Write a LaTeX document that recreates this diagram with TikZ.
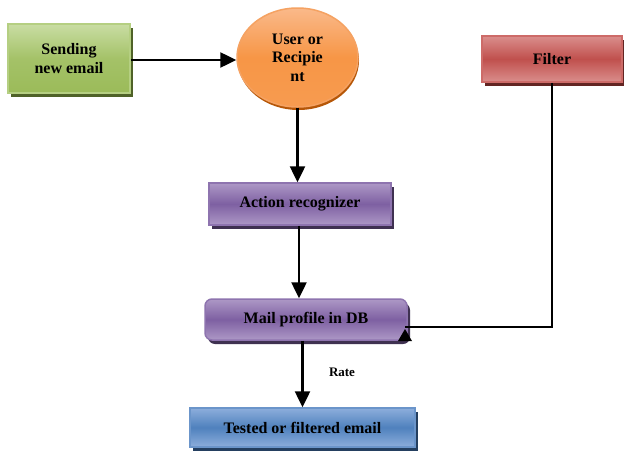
\documentclass[tikz,border=0pt]{standalone}
\usepackage{fontspec}
\setmainfont{Liberation Serif}
\usetikzlibrary{shapes.geometric,shadows,arrows.meta,calc}
\definecolor{gLight}{HTML}{C9DDA3}
\definecolor{gMid}{HTML}{9BBB59}
\definecolor{gEdge}{HTML}{B5CF82}
\definecolor{gShadow}{HTML}{4F6228}
\definecolor{oLight}{HTML}{FAB98A}
\definecolor{oMid}{HTML}{F79646}
\definecolor{oEdge}{HTML}{F5A262}
\definecolor{oShadow}{HTML}{B65708}
\definecolor{rLight}{HTML}{DA8E8C}
\definecolor{rMid}{HTML}{C0504D}
\definecolor{rEdge}{HTML}{CD6B68}
\definecolor{rShadow}{HTML}{632523}
\definecolor{pLight}{HTML}{AD98C6}
\definecolor{pMid}{HTML}{7E60A2}
\definecolor{pEdge}{HTML}{8E74AF}
\definecolor{pShadow}{HTML}{3F3151}
\definecolor{bLight}{HTML}{8DAEDC}
\definecolor{bMid}{HTML}{4F81BD}
\definecolor{bEdge}{HTML}{6B95CA}
\definecolor{bShadow}{HTML}{243F60}
\tikzset{
  x=1pt,y=1pt,
  base/.style={font=\fontsize{16}{18.5}\selectfont\bfseries, align=center, inner sep=0pt, line width=1.5pt},
  gbox/.style={base, rectangle, top color=gLight, bottom color=gMid, middle color=gMid!80!gLight, draw=gEdge,
    drop shadow={shadow xshift=3pt, shadow yshift=-4pt, fill=gShadow, opacity=1}},
  obox/.style={base, ellipse, top color=oLight, bottom color=oMid!85!oLight, middle color=oMid, draw=oEdge,
    drop shadow={shadow xshift=1pt, shadow yshift=-3pt, fill=oShadow, opacity=1}},
  rbox/.style={base, rectangle, top color=rLight, bottom color=rLight, middle color=rMid, draw=rEdge,
    drop shadow={shadow xshift=3pt, shadow yshift=-4pt, fill=rShadow, opacity=1}},
  pbox/.style={base, rectangle, top color=pLight, bottom color=pLight, middle color=pMid, draw=pEdge,
    drop shadow={shadow xshift=3pt, shadow yshift=-4pt, fill=pShadow, opacity=1}},
  bbox/.style={base, rectangle, top color=bLight, bottom color=bLight, middle color=bMid, draw=bEdge,
    drop shadow={shadow xshift=3pt, shadow yshift=-4pt, fill=bShadow, opacity=1}},
  conn/.style={line width=2.5pt, -{Triangle[length=16pt,width=15pt]}},
  plain/.style={line width=2.5pt},
}
\begin{document}
\begin{tikzpicture}
\useasboundingbox[fill=white] (0,0) rectangle (624,-450);
\node[gbox, minimum width=122, minimum height=69] (send) at (69,-58.5) {Sending\\new email};
\node[obox, minimum width=121, minimum height=99] (user) at (297.5,-57.5) {User or\\Recipie\\nt};
\node[rbox, minimum width=140, minimum height=46] (filter) at (552,-59) {Filter};
\node[pbox, minimum width=182, minimum height=42] (action) at (300,-204) {Action recognizer};
\node[pbox, rounded corners=7pt, minimum width=202, minimum height=41] (mail) at (306,-319.5) {Mail profile in DB};
\node[bbox, minimum width=225, minimum height=39] (tested) at (302.5,-427.5) {Tested or filtered email};
\node[font=\fontsize{13}{15}\selectfont\bfseries, inner sep=0pt] (rate) at (342,-372) {Rate};
\coordinate (fin) at (405,-327);
\draw[conn] (send.east |- 0,-60) -- (user.west |- 0,-60);
\draw[conn] (user.south) -- (user.south |- action.north);
\draw[conn] ($(action.south)+(-1,0)$) -- ($(action.south |- mail.north)+(-1,0)$);
\draw[conn] (mail.south -| tested.north) -- (tested.north);
\draw[plain] (filter.south) |- (fin);
\fill (fin) ++(0,-2) -- ++(-7,-12) -- ++(14,0) -- cycle;
\end{tikzpicture}
\end{document}
